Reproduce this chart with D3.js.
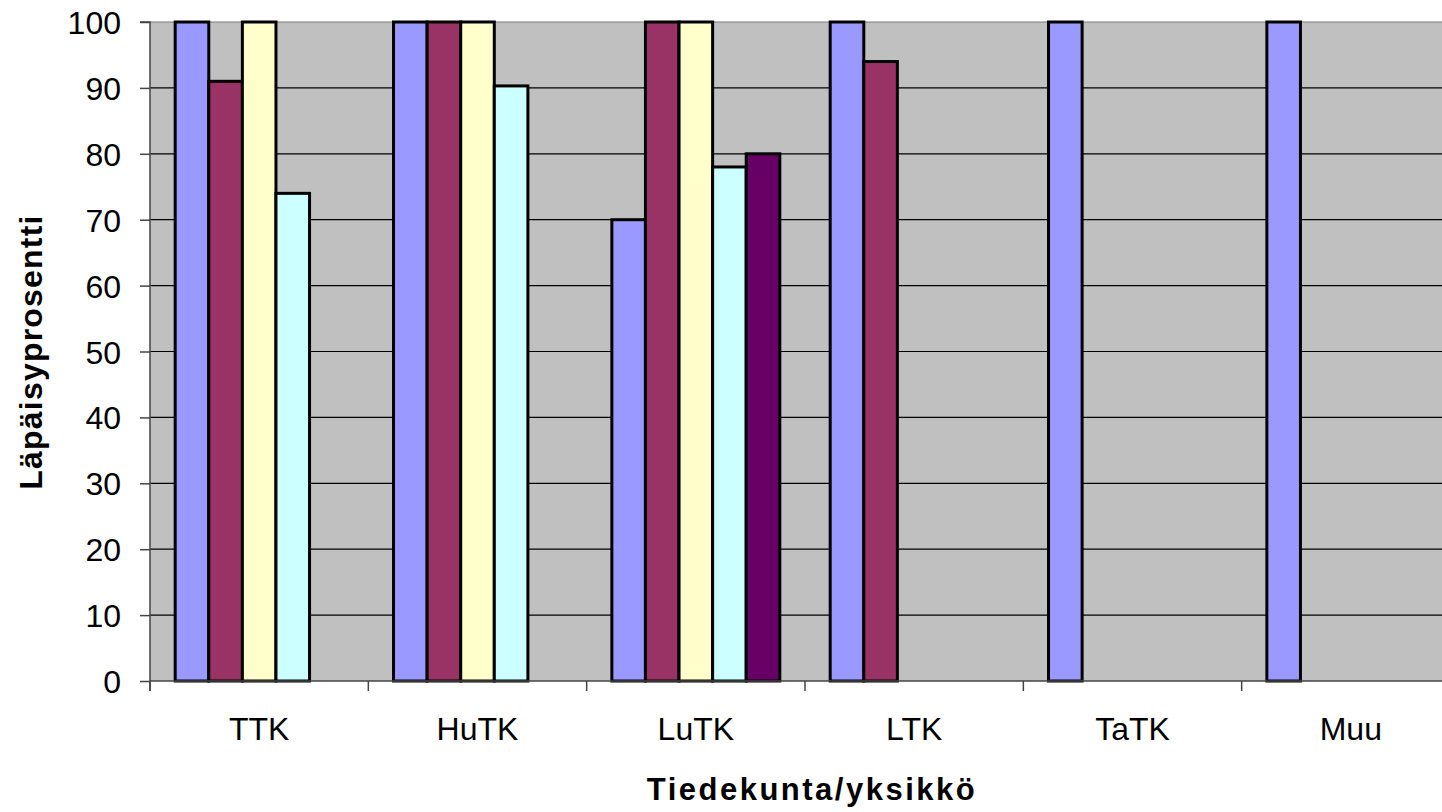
<!DOCTYPE html>
<html>
<head>
<meta charset="utf-8">
<script src="https://cdn.jsdelivr.net/npm/d3@7"></script>
<style>
  html, body { margin: 0; padding: 0; background: #fff; }
  svg { display: block; }
  text { font-family: "Liberation Sans", Arial, sans-serif; fill: #000; }
</style>
</head>
<body>
<svg id="chart" width="1442" height="812"></svg>
<script>
// Faculties / units on the x axis
const categories = ["TTK", "HuTK", "LuTK", "LTK", "TaTK", "Muu"];
// Pass rate (%) per series; null = no bar for that unit
const series1 = [100, 100, 70, 100, 100, 100];
const series2 = [91, 100, 100, 94, null, null];
const series3 = [100, 100, 100, null, null, null];
const series4 = [74, 90.3, 78, null, null, null];
const series5 = [null, null, 80, null, null, null];
const yTicks = [0, 10, 20, 30, 40, 50, 60, 70, 80, 90, 100];
const yTitle = "Läpäisyprosentti";
const xTitle = "Tiedekunta/yksikkö";

const seriesList = [series1, series2, series3, series4, series5];
const colors = ["#9999FF", "#993366", "#FFFFCC", "#CCFFFF", "#660066"];

const svg = d3.select("#chart");
const plot = { left: 150, top: 22, right: 1460, bottom: 681 };

const x0 = d3.scaleBand().domain(categories).range([plot.left, plot.right]).paddingInner(0).paddingOuter(0);
const x1 = d3.scaleBand().domain(d3.range(seriesList.length)).range([0, x0.bandwidth()]).paddingInner(0).paddingOuter(0.75);
const y = d3.scaleLinear().domain([0, 100]).range([plot.bottom, plot.top]);

// plot background
svg.append("rect")
  .attr("x", plot.left).attr("y", plot.top)
  .attr("width", plot.right - plot.left).attr("height", plot.bottom - plot.top)
  .attr("fill", "#C0C0C0");

// horizontal gridlines
svg.append("g").selectAll("line")
  .data(yTicks.filter(d => d > 0))
  .join("line")
  .attr("x1", plot.left).attr("x2", plot.right)
  .attr("y1", d => y(d)).attr("y2", d => y(d))
  .attr("stroke", d => d === 100 ? "#7a7a7a" : "#000")
  .attr("stroke-width", 1.2);

// bars
const rows = [];
categories.forEach((c, ci) => {
  seriesList.forEach((s, si) => {
    if (s[ci] != null) rows.push({ c, si, v: s[ci] });
  });
});
svg.append("g").selectAll("rect")
  .data(rows)
  .join("rect")
  .attr("x", d => x0(d.c) + x1(d.si))
  .attr("y", d => y(d.v))
  .attr("width", x1.bandwidth())
  .attr("height", d => y(0) - y(d.v))
  .attr("fill", d => colors[d.si])
  .attr("stroke", "#000")
  .attr("stroke-width", 3);

// y axis
const yAxis = d3.axisLeft(y).tickValues(yTicks).tickSize(10).tickPadding(19).tickFormat(d3.format("d"));
const gy = svg.append("g").attr("transform", `translate(${plot.left},0)`).call(yAxis);
gy.select(".domain").attr("stroke", "#444").attr("stroke-width", 1.5).attr("d", `M-10,${plot.top}H0V${plot.bottom + 10}`);
gy.selectAll(".tick line").attr("stroke", "#444").attr("stroke-width", 1.5);
gy.selectAll(".tick text")
  .attr("font-size", 32)
  .attr("font-family", "Liberation Sans, Arial, sans-serif")
  .attr("dy", "0.36em")
  .attr("fill", "#000");

// x axis: ticks between categories, labels centred in each band
const boundaries = categories.map(c => x0(c)).concat([plot.right]);
const gx = svg.append("g");
gx.append("line")
  .attr("x1", plot.left).attr("x2", plot.right)
  .attr("y1", plot.bottom).attr("y2", plot.bottom)
  .attr("stroke", "#444").attr("stroke-width", 1.5);
gx.selectAll("line.tk")
  .data(boundaries)
  .join("line")
  .attr("class", "tk")
  .attr("x1", d => d).attr("x2", d => d)
  .attr("y1", plot.bottom).attr("y2", plot.bottom + 10)
  .attr("stroke", "#444").attr("stroke-width", 1.5);
gx.selectAll("text")
  .data(categories)
  .join("text")
  .attr("x", d => x0(d) + x0.bandwidth() / 2)
  .attr("y", 740)
  .attr("text-anchor", "middle")
  .attr("font-size", 32)
  .text(d => d);

// axis titles
svg.append("text")
  .attr("x", 812).attr("y", 800)
  .attr("text-anchor", "middle")
  .attr("font-size", 31)
  .attr("font-weight", "bold")
  .attr("letter-spacing", "2.5px")
  .text(xTitle);

svg.append("text")
  .attr("transform", "translate(42,352) rotate(-90)")
  .attr("text-anchor", "middle")
  .attr("font-size", 32)
  .attr("font-weight", "bold")
  .attr("letter-spacing", "1.2px")
  .text(yTitle);
</script>
</body>
</html>
